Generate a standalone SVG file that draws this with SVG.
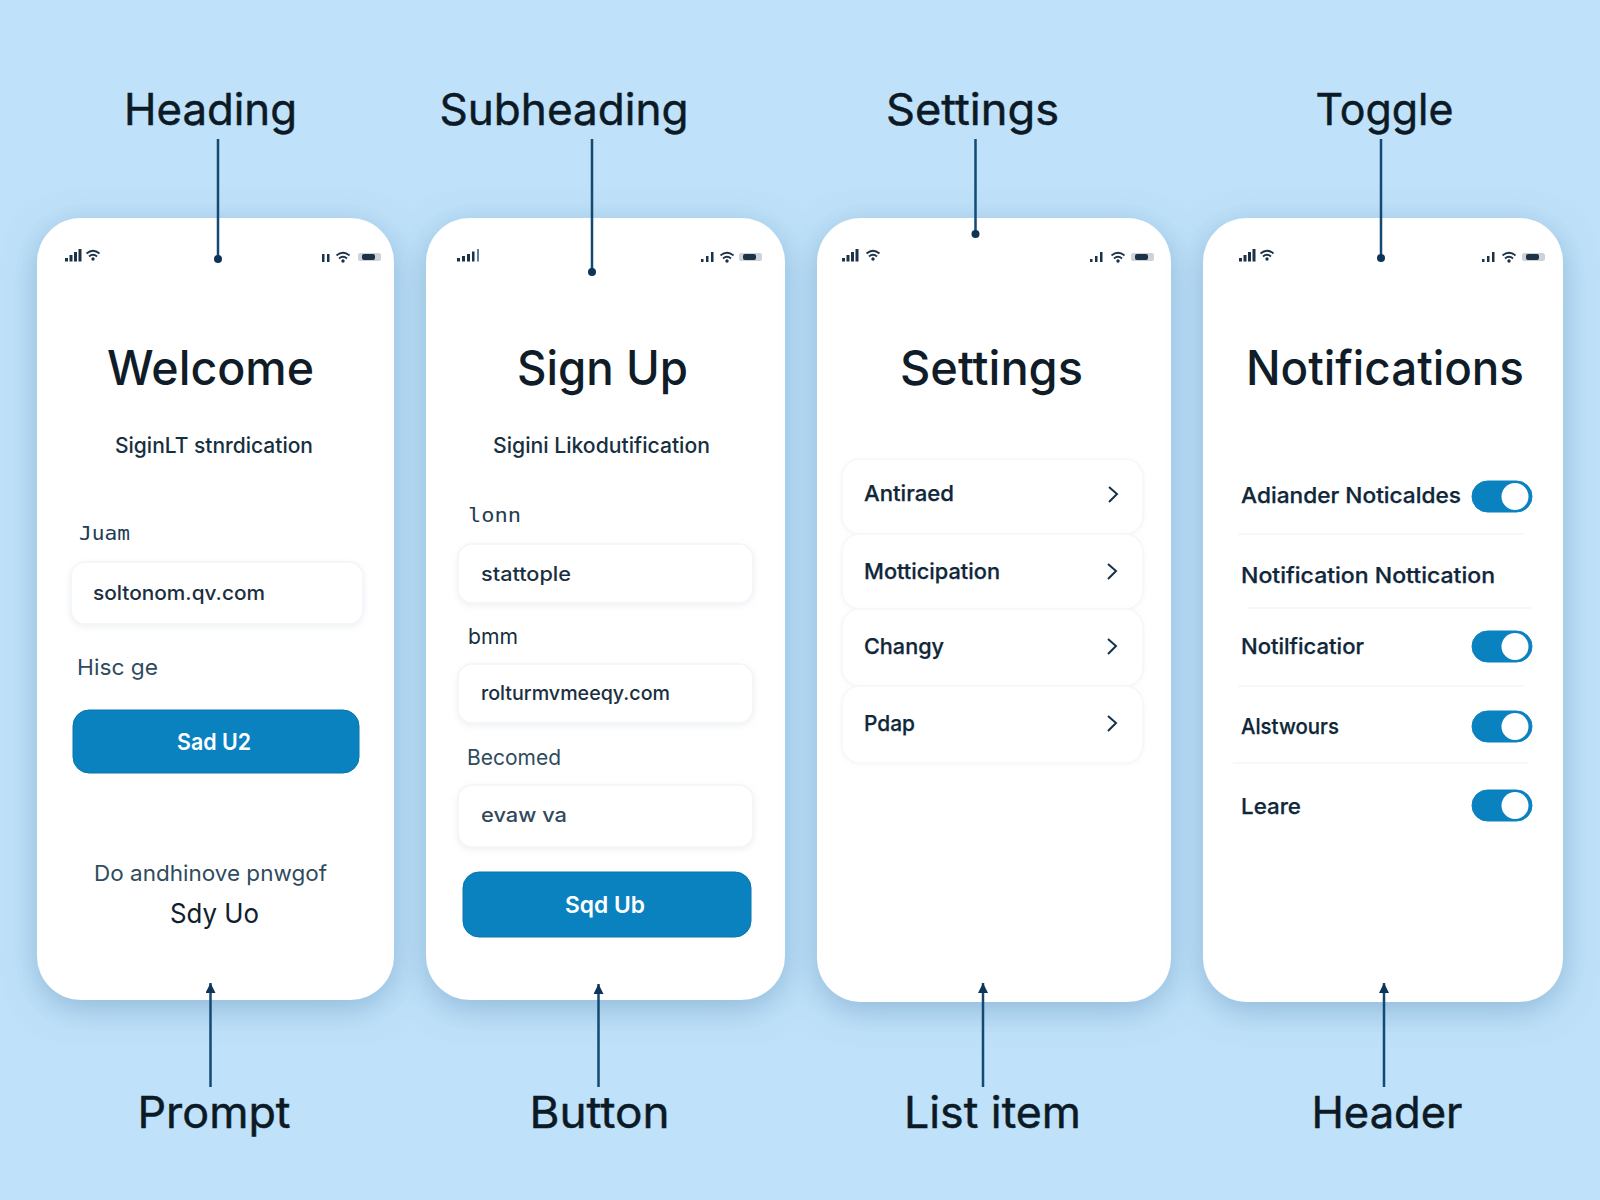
<svg xmlns="http://www.w3.org/2000/svg" width="1600" height="1200" viewBox="0 0 1600 1200">
<style>
text{font-family:Inter,"Noto Sans","Liberation Sans",sans-serif;fill:#10202e}
.lab{font-size:44px;font-weight:400;fill:#0c1a26;stroke:#0c1a26;stroke-width:.5}
.title{font-size:48px;font-weight:500;fill:#101d29}
.sub{font-size:21.500px;font-weight:500;fill:#17303f}
.fl{font-size:22px;fill:#2f4b5e}
.mono{font-family:"DejaVu Sans Mono","Liberation Mono",monospace;font-size:20px;fill:#1f3d54}
.val{font-size:20px;font-weight:500;fill:#1b2f40}
.btxt{font-size:23px;font-weight:600;fill:#fff}
.row{font-size:22px;font-weight:500;fill:#10273a;stroke:#10273a;stroke-width:.25}
.phone{fill:#fff;filter:url(#sh)}
.inp{fill:#fff;stroke:#f3f5f8;stroke-width:1.500;filter:url(#soft)}
.li{fill:#fff;stroke:#f6f7f9;stroke-width:1.500;filter:url(#soft2)}
.btn{fill:#0a82c0;stroke:#0874b0;stroke-width:1}
.conn{stroke:#124a73;stroke-width:2.500;fill:none}
.dot{fill:#0e3557}
.chev{fill:none;stroke:#15304a;stroke-width:2}
.tog{fill:#0a82c0;stroke:#0a82c0}
.div{stroke:#f5f6f8;stroke-width:1.500}
.st{fill:#1c3247}
.wf{fill:none;stroke:#1c3247;stroke-width:1.800}
</style>
<defs>
<filter id="sh" x="-20%" y="-10%" width="140%" height="122%"><feDropShadow dx="0" dy="8" stdDeviation="16" flood-color="#5c8fb8" flood-opacity=".5"/></filter>
<filter id="soft" x="-5%" y="-15%" width="110%" height="130%"><feDropShadow dx="0" dy="2" stdDeviation="3" flood-color="#c3cfda" flood-opacity=".3"/></filter>
<filter id="soft2" x="-5%" y="-15%" width="110%" height="130%"><feDropShadow dx="0" dy="1" stdDeviation="2" flood-color="#d2dbe3" flood-opacity=".25"/></filter>
<filter id="bl"><feGaussianBlur stdDeviation=".7"/></filter>
<marker id="ah" markerWidth="11" markerHeight="10" refX="10" refY="5" orient="auto" markerUnits="userSpaceOnUse"><path d="M0 0L10 5L0 10Z" fill="#0e3557"/></marker>
<g id="sig"><rect x="0" y="9" width="3" height="3.500" class="st"/><rect x="4.500" y="6" width="3" height="6.500" class="st"/><rect x="9" y="3" width="3" height="9.500" class="st"/><rect x="13.500" y="0" width="3" height="12.500" class="st"/></g>
<g id="sig5"><rect x="0" y="9" width="3" height="3.500" class="st"/><rect x="5" y="7" width="3" height="5.500" class="st"/><rect x="10" y="5" width="3" height="7.500" class="st"/><rect x="15" y="2.500" width="2.500" height="10" class="st"/><rect x="20" y="0" width="2" height="12.500" fill="#5d7f9a"/></g>
<g id="sig2"><rect x="0" y="7" width="2.500" height="3" class="st"/><rect x="5" y="4" width="2.500" height="6" class="st"/><rect x="10" y="0" width="2.500" height="10" class="st"/></g>
<g id="wifi"><path class="wf" d="M-6.500 3.500Q0-2 6.500 3.500M-4 6.500Q0 3 4 6.500"/><circle cx="0" cy="9" r="1.700" class="st"/></g>
<g id="bat" filter="url(#bl)"><rect x="0" y="0" width="23" height="8" rx="2.500" fill="#1c3247" opacity=".22"/><rect x="4" y="1" width="13" height="6" rx="2" class="st"/></g>
<g id="tg"><rect x="0" y="0" width="60" height="31" rx="15.500" class="tog"/><circle cx="43" cy="15.500" r="13.500" fill="#fff"/></g>
</defs>
<rect width="1600" height="1200" fill="#bfe1f9"/>

<g id="phone-welcome">
<rect class="phone" x="37" y="218" width="357" height="782" rx="44"/>
<use href="#sig" x="65" y="249"/><use href="#wifi" x="93" y="250"/>
<rect x="322" y="254" width="2.500" height="8" class="st"/><rect x="327" y="254" width="2.500" height="8" class="st"/><use href="#wifi" x="343" y="252"/><use href="#bat" x="358" y="253"/>
<text class="title" x="107" y="385" textLength="207" lengthAdjust="spacingAndGlyphs">Welcome</text>
<text class="sub" x="115" y="453" textLength="198" lengthAdjust="spacingAndGlyphs">SiginLT stnrdication</text>
<text class="mono" x="79" y="540" textLength="51" lengthAdjust="spacingAndGlyphs">Juam</text>
<rect class="inp" x="71" y="562" width="292" height="62" rx="14"/>
<text class="val" x="93" y="600" textLength="172" lengthAdjust="spacingAndGlyphs">soltonom.qv.com</text>
<text class="fl" x="77" y="675" textLength="81" lengthAdjust="spacingAndGlyphs">Hisc ge</text>
<rect class="btn" x="73" y="710" width="286" height="63" rx="16"/>
<text class="btxt" x="177" y="750" textLength="74" lengthAdjust="spacingAndGlyphs">Sad U2</text>
<text class="fl" x="94" y="881" textLength="233" lengthAdjust="spacingAndGlyphs">Do andhinove pnwgof</text>
<text x="170" y="923" font-size="27" fill="#10202e" textLength="89" lengthAdjust="spacingAndGlyphs">Sdy Uo</text>
</g>

<g id="phone-signup">
<rect class="phone" x="426" y="218" width="359" height="782" rx="44"/>
<use href="#sig5" x="457" y="249"/>
<use href="#sig2" x="701" y="252"/><use href="#wifi" x="727" y="252"/><use href="#bat" x="739" y="253"/>
<text class="title" x="517" y="385" textLength="171" lengthAdjust="spacingAndGlyphs">Sign Up</text>
<text class="sub" x="493" y="453" textLength="217" lengthAdjust="spacingAndGlyphs">Sigini Likodutification</text>
<text class="mono" x="468" y="522" textLength="53" lengthAdjust="spacingAndGlyphs">lonn</text>
<rect class="inp" x="458" y="544" width="295" height="59" rx="14"/>
<text class="val" x="481" y="581" textLength="90" lengthAdjust="spacingAndGlyphs">stattople</text>
<text class="fl" x="468" y="644" textLength="50" lengthAdjust="spacingAndGlyphs" style="fill:#17303f">bmm</text>
<rect class="inp" x="458" y="664" width="295" height="59" rx="14"/>
<text class="val" x="481" y="700" textLength="189" lengthAdjust="spacingAndGlyphs">rolturmvmeeqy.com</text>
<text class="fl" x="467" y="765" font-size="20" style="font-size:21px" textLength="94" lengthAdjust="spacingAndGlyphs">Becomed</text>
<rect class="inp" x="458" y="785" width="295" height="62" rx="14"/>
<text class="val" x="481" y="822" textLength="86" lengthAdjust="spacingAndGlyphs" style="fill:#33495b">evaw va</text>
<rect class="btn" x="463" y="872" width="288" height="65" rx="16"/>
<text class="btxt" x="565" y="913" textLength="80" lengthAdjust="spacingAndGlyphs">Sqd Ub</text>
</g>

<g id="phone-settings">
<rect class="phone" x="817" y="218" width="354" height="784" rx="44"/>
<use href="#sig" x="842" y="249"/><use href="#wifi" x="873" y="250"/>
<use href="#sig2" x="1090" y="252"/><use href="#wifi" x="1118" y="252"/><use href="#bat" x="1131" y="253"/>
<text class="title" x="900" y="385" textLength="183" lengthAdjust="spacingAndGlyphs">Settings</text>
<rect class="li" x="842" y="459" width="301" height="75" rx="18"/>
<rect class="li" x="842" y="534" width="301" height="75" rx="18"/>
<rect class="li" x="842" y="609" width="301" height="77" rx="18"/>
<rect class="li" x="842" y="686" width="301" height="77" rx="18"/>
<text class="row" x="864" y="501" textLength="90" lengthAdjust="spacingAndGlyphs">Antiraed</text>
<text class="row" x="864" y="579" textLength="136" lengthAdjust="spacingAndGlyphs">Motticipation</text>
<text class="row" x="864" y="654" textLength="80" lengthAdjust="spacingAndGlyphs">Changy</text>
<text class="row" x="864" y="731" textLength="51" lengthAdjust="spacingAndGlyphs">Pdap</text>
<path class="chev" d="M1109 487L1117 494L1109 502M1108 564L1116 571L1108 579M1108 639L1116 646L1108 654M1108 716L1116 723L1108 731"/>
</g>

<g id="phone-notifications">
<rect class="phone" x="1203" y="218" width="360" height="784" rx="44"/>
<use href="#sig" x="1239" y="249"/><use href="#wifi" x="1267" y="250"/>
<use href="#sig2" x="1482" y="252"/><use href="#wifi" x="1509" y="252"/><use href="#bat" x="1522" y="253"/>
<text class="title" x="1246" y="385" textLength="278" lengthAdjust="spacingAndGlyphs">Notifications</text>
<text class="row" x="1241" y="503" textLength="220" lengthAdjust="spacingAndGlyphs">Adiander Noticaldes</text>
<use href="#tg" x="1472" y="481"/>
<line class="div" x1="1238" y1="534" x2="1525" y2="534"/>
<text class="row" x="1241" y="583" textLength="254" lengthAdjust="spacingAndGlyphs">Notification Nottication</text>
<line class="div" x1="1248" y1="608" x2="1532" y2="608"/>
<text class="row" x="1241" y="654" textLength="123" lengthAdjust="spacingAndGlyphs">Notilficatior</text>
<use href="#tg" x="1472" y="631"/>
<line class="div" x1="1238" y1="686" x2="1525" y2="686"/>
<text class="row" x="1241" y="734" textLength="98" lengthAdjust="spacingAndGlyphs">Alstwours</text>
<use href="#tg" x="1472" y="711"/>
<line class="div" x1="1233" y1="763" x2="1528" y2="763"/>
<text class="row" x="1241" y="814" textLength="60" lengthAdjust="spacingAndGlyphs">Leare</text>
<use href="#tg" x="1472" y="790"/>
</g>

<g id="connectors">
<path class="conn" d="M218 139V259M592 139V272M975.500 139V234M1381 139V258"/>
<circle class="dot" cx="218" cy="259" r="4"/><circle class="dot" cx="592" cy="272" r="4"/><circle class="dot" cx="975.500" cy="234" r="4"/><circle class="dot" cx="1381" cy="258" r="4"/>
<line class="conn" x1="210.500" y1="1087" x2="210.500" y2="983" marker-end="url(#ah)"/>
<line class="conn" x1="598.500" y1="1087" x2="598.500" y2="984" marker-end="url(#ah)"/>
<line class="conn" x1="983" y1="1087" x2="983" y2="983" marker-end="url(#ah)"/>
<line class="conn" x1="1384" y1="1087" x2="1384" y2="983" marker-end="url(#ah)"/>
</g>

<g id="labels">
<text class="lab" x="124" y="125" textLength="173" lengthAdjust="spacingAndGlyphs">Heading</text>
<text class="lab" x="439.500" y="125" textLength="249" lengthAdjust="spacingAndGlyphs">Subheading</text>
<text class="lab" x="886" y="125" textLength="173" lengthAdjust="spacingAndGlyphs">Settings</text>
<text class="lab" x="1315.500" y="125" textLength="138" lengthAdjust="spacingAndGlyphs">Toggle</text>
<text class="lab" x="137.500" y="1128" textLength="153" lengthAdjust="spacingAndGlyphs">Prompt</text>
<text class="lab" x="529.500" y="1128" textLength="140" lengthAdjust="spacingAndGlyphs">Button</text>
<text class="lab" x="904" y="1128" textLength="177" lengthAdjust="spacingAndGlyphs">List item</text>
<text class="lab" x="1311.500" y="1128" textLength="151" lengthAdjust="spacingAndGlyphs">Header</text>
</g>
</svg>
